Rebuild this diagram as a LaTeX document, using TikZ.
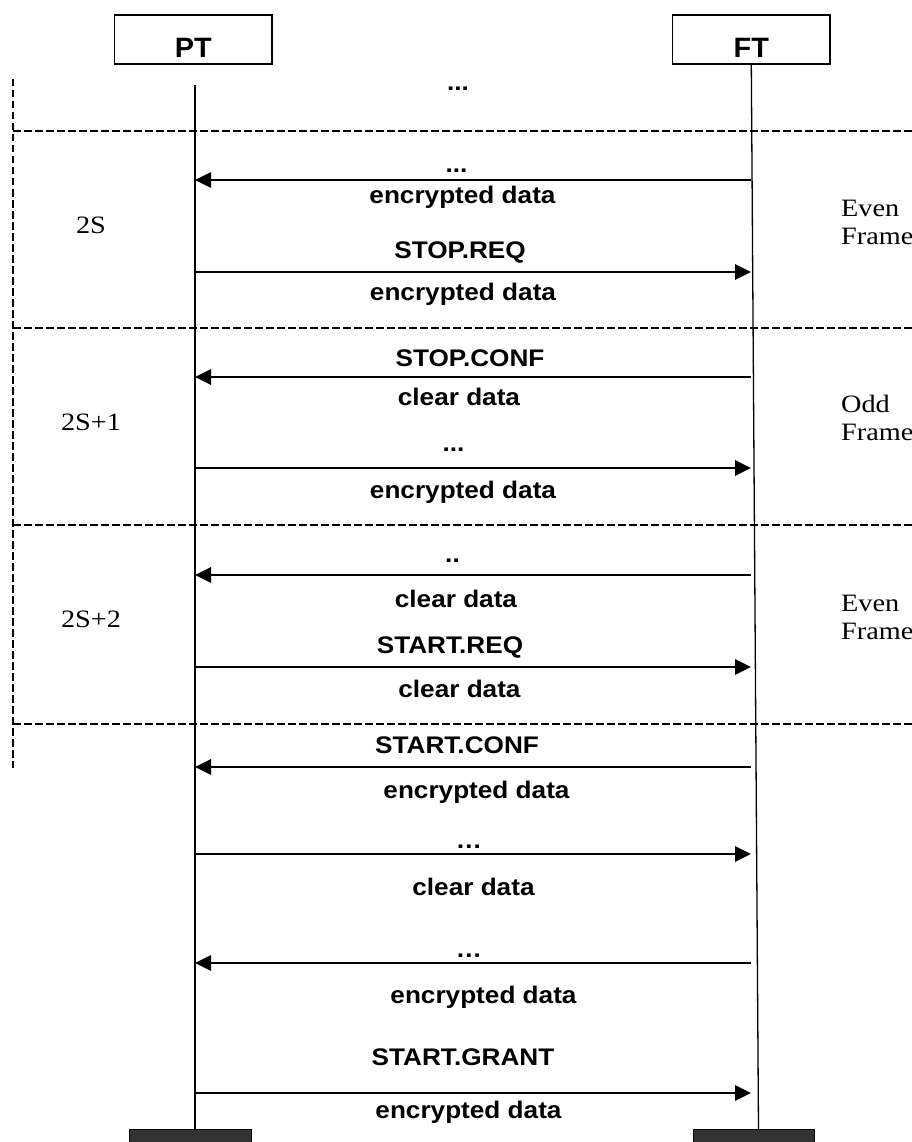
\documentclass[tikz,border=0pt]{standalone}
\usepackage{fontspec}
\setmainfont{Liberation Serif}[FakeStretch=1.13]
\newfontfamily\arialf{Liberation Sans}[FakeStretch=1.09]
\newfontfamily\arialh{Liberation Sans}[FakeStretch=1.03]
\usetikzlibrary{arrows.meta}
\definecolor{darkbox}{HTML}{333333}
\begin{document}
\begin{tikzpicture}[x=1pt,y=-1pt,
  actor/.style={draw=black, line width=1.4pt, inner sep=0pt, anchor=base,
    font=\arialh\bfseries\fontsize{28}{30}\selectfont},
  endbox/.style={draw=black, line width=1pt, fill=darkbox, inner sep=0pt, anchor=north},
  life/.style={line width=1.3pt},
  divline/.style={line width=2.8pt, dash pattern=on 7.5pt off 3.5pt},
  msg/.style={line width=2.8pt, -{Triangle[length=16pt,width=15pt]}},
  lab/.style={font=\arialf\bfseries\fontsize{24}{27}\selectfont, anchor=base, inner sep=0pt},
  slot/.style={font=\fontsize{25}{28}\selectfont, anchor=base, inner sep=0pt},
  side/.style={font=\fontsize{25}{28}\selectfont, anchor=base west, inner sep=0pt, align=left}]
\useasboundingbox (0,0) rectangle (911,1142);

% actors
\node[actor, minimum width=157.5pt, text height=43pt, text depth=6pt] (pt) at (193.3,58) {PT};
\node[actor, minimum width=157.3pt, text height=43pt, text depth=6pt] (ft) at (751.3,58) {FT};
\node[endbox, minimum width=122pt, minimum height=30pt] (ptend) at (190,1129) {};
\node[endbox, minimum width=121pt, minimum height=30pt] (ftend) at (753.5,1129) {};

% lifelines
\coordinate (ptTop) at (195,85);
\coordinate (ftBot) at (758.5,1129);
\draw[life] (ptTop) -- (ptTop |- ptend.north);
\draw[life] (ft.south) -- (ftBot);

% frame separators
\coordinate (vTop) at (13,79);
\coordinate (vBot) at (13,768);
\draw[divline] (vTop) -- (vBot);
\foreach \y [count=\k] in {131,328,525,724} {
  \coordinate (dl\k) at (13,\y);
  \coordinate (dr\k) at (915,\y);
  \draw[divline] (dl\k) -- (dr\k);
}

% messages
\foreach \y/\d [count=\i] in {180/l,272/r,377/l,468/r,575/l,667/r,767/l,854/r,963/l,1093/r} {
  \coordinate (p\i) at (195,\y);
  \coordinate (f\i) at (751,\y);
  \if\d l
    \draw[msg] (f\i) -- (p\i);
  \else
    \draw[msg] (p\i) -- (f\i);
  \fi
}

% labels
\node[lab] (t0) at (458,91) {...};
\node[lab] (a1) at (456.5,173) {...};
\node[lab] (b1) at (462.5,204) {encrypted data};
\node[lab] (a2) at (460,258) {STOP.REQ};
\node[lab] (b2) at (463,300) {encrypted data};
\node[lab] (a3) at (470,366) {STOP.CONF};
\node[lab] (b3) at (459,405) {clear data};
\node[lab] (a4) at (453.5,451) {...};
\node[lab] (b4) at (463,498) {encrypted data};
\node[lab] (a5) at (452.5,562) {..};
\node[lab] (b5) at (456,607) {clear data};
\node[lab] (a6) at (450,653) {START.REQ};
\node[lab] (b6) at (459.5,697) {clear data};
\node[lab] (a7) at (457,753) {START.CONF};
\node[lab] (b7) at (476.5,798) {encrypted data};
\node[lab] (a8) at (469,848) {…};
\node[lab] (b8) at (473.5,895) {clear data};
\node[lab] (a9) at (469,957) {…};
\node[lab] (b9) at (483.5,1003) {encrypted data};
\node[lab] (a10) at (463,1065) {START.GRANT};
\node[lab] (b10) at (468.5,1118) {encrypted data};

% frame numbers
\node[slot] (s1) at (91,233) {2S};
\node[slot] (s2) at (91,430) {2S+1};
\node[slot] (s3) at (91,627) {2S+2};

% frame parity (base anchor = baseline of the last line)
\node[side] (e1) at (841,244) {Even\\Frame};
\node[side] (e2) at (841,440) {Odd\\Frame};
\node[side] (e3) at (841,639) {Even\\Frame};
\end{tikzpicture}
\end{document}
